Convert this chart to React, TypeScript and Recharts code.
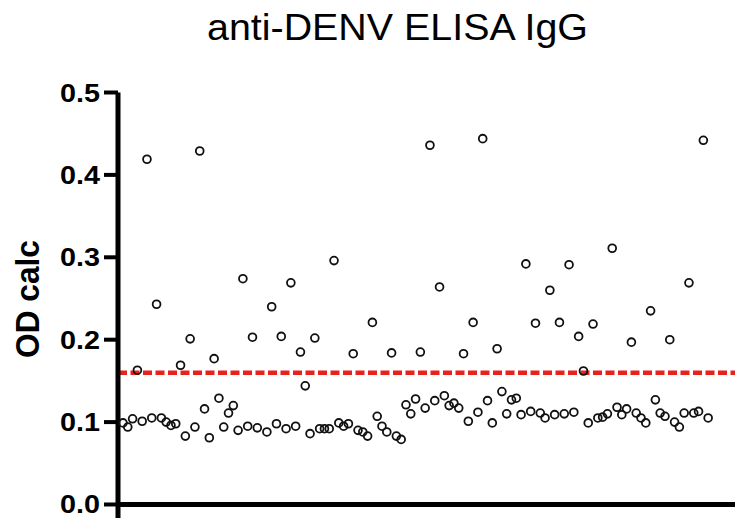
import React from "react";
import { ScatterChart, Scatter, XAxis, YAxis, ReferenceLine } from "recharts";

// OD calc per sample, in plate order (null = slot with no visible reading)
const odValues: (number | null)[] = [
  0.099, 0.094, 0.104, 0.163, 0.101, 0.419, 0.105, 0.243, 0.105, 0.100,
  0.096, 0.098, 0.169, 0.083, 0.201, 0.094, 0.429, 0.116, 0.081, 0.177,
  0.129, 0.094, 0.111, 0.120, 0.090, 0.274, 0.095, 0.203, 0.093, null,
  0.088, 0.240, 0.098, 0.204, 0.092, 0.269, 0.095, 0.185, 0.144, 0.086,
  0.202, 0.092, 0.092, 0.092, 0.296, 0.099, 0.095, 0.098, 0.183, 0.090,
  0.088, 0.083, 0.221, 0.107, 0.095, 0.088, 0.184, 0.083, 0.079, 0.121,
  0.110, 0.128, 0.185, 0.117, 0.436, 0.126, 0.264, 0.132, 0.120, 0.123,
  0.117, 0.183, 0.101, 0.221, 0.112, 0.444, 0.126, 0.099, 0.189, 0.137,
  0.110, 0.127, 0.129, 0.109, 0.292, 0.113, 0.220, 0.111, 0.105, 0.260,
  0.109, 0.221, 0.110, 0.291, 0.112, 0.204, 0.162, 0.099, 0.219, 0.105,
  0.106, 0.110, 0.311, 0.118, 0.109, 0.116, 0.197, 0.111, 0.105, 0.099,
  0.235, 0.127, 0.111, 0.107, 0.200, 0.100, 0.094, 0.111, 0.269, 0.111,
  0.113, 0.442, 0.105,
];

const cutoff = 0.16;
const yTicks = [0, 0.1, 0.2, 0.3, 0.4, 0.5];
const title = "anti-DENV ELISA IgG";
const yLabel = "OD calc";

const FONT = "'Liberation Sans', Arial, Helvetica, sans-serif";

const points = odValues
  .map((v, i) => ({ x: i, y: v }))
  .filter((p) => p.y !== null);

const OpenCircle = (props: any) => {
  const { cx, cy } = props;
  return <circle cx={cx} cy={cy} r={3.9} fill="none" stroke="#111" strokeWidth={1.8} />;
};

const YTick = (props: any) => {
  const { x, y, payload } = props;
  return (
    <text
      x={x}
      y={y}
      dy="0.36em"
      textAnchor="end"
      fontSize={25}
      fontWeight="bold"
      fontFamily={FONT}
      fill="#000"
      textLength={40}
      lengthAdjust="spacingAndGlyphs"
    >
      {Number(payload.value).toFixed(1)}
    </text>
  );
};

export default function App() {
  return (
    <div style={{ position: "absolute", left: 0, top: 0, width: 735, height: 521, background: "#fff" }}>
      <ScatterChart width={735} height={521} margin={{ top: 92.5, right: 0, bottom: 3, left: 0 }}>
        <XAxis type="number" dataKey="x" domain={[-1.04, 127.6]} hide allowDataOverflow />
        <YAxis
          type="number"
          dataKey="y"
          width={118}
          domain={[-0.0164, 0.5]}
          ticks={yTicks}
          allowDataOverflow
          axisLine={{ stroke: "#000", strokeWidth: 5 }}
          tickLine={{ stroke: "#000", strokeWidth: 4 }}
          tickSize={14}
          tickMargin={4}
          tick={<YTick />}
        />
        <ReferenceLine y={0} stroke="#000" strokeWidth={5} />
        <ReferenceLine y={cutoff} stroke="#e8211d" strokeWidth={4.5} strokeDasharray="9 3.5" />
        <Scatter data={points} shape={<OpenCircle />} isAnimationActive={false} />
      </ScatterChart>
      <svg
        width={735}
        height={521}
        style={{ position: "absolute", left: 0, top: 0, pointerEvents: "none" }}
      >
        <text x={207} y={40} fontSize={37} fontFamily={FONT} fill="#000" textLength={381} lengthAdjust="spacingAndGlyphs">
          {title}
        </text>
        <text
          transform="translate(39, 299) rotate(-90)"
          textAnchor="middle"
          fontSize={33}
          fontWeight="bold"
          fontFamily={FONT}
          fill="#000"
          textLength={118}
          lengthAdjust="spacingAndGlyphs"
        >
          {yLabel}
        </text>
      </svg>
    </div>
  );
}
